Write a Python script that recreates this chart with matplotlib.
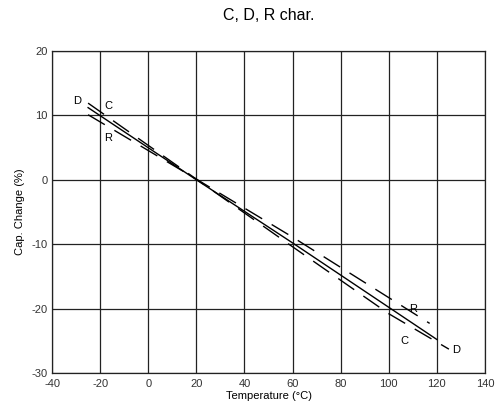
import matplotlib.pyplot as plt

plt.rcParams["font.family"] = ["Liberation Sans", "DejaVu Sans"]
plt.rcParams["axes.unicode_minus"] = False

# temperature (°C) and capacitance change (%)
temp_c = [-25, 20, 60, 100, 120]
cap_c = [11.2, 0.0, -9.8, -19.8, -24.8]

temp_d = [-25, 20, 60, 100, 125]
cap_d = [11.9, 0.1, -10.4, -20.8, -26.3]

temp_r = [-25, 20, 60, 100, 117]
cap_r = [10.1, 0.1, -8.9, -18.3, -22.3]

x_ticks = [-40, -20, 0, 20, 40, 60, 80, 100, 120, 140]
y_ticks = [-30, -20, -10, 0, 10, 20]

fig = plt.figure(figsize=(5.03, 4.11), dpi=100)
ax = fig.add_axes([0.1034, 0.0925, 0.8608, 0.7835])

ax.plot(temp_c, cap_c, color="black", lw=1.0)
ax.plot(temp_d, cap_d, color="black", lw=1.0, dashes=(14, 8))
ax.plot(temp_r, cap_r, color="black", lw=1.0, dashes=(14, 8))

ax.text(-29.5, 12.2, "D", fontsize=8, ha="center", va="center")
ax.text(-16.5, 11.5, "C", fontsize=8, ha="center", va="center")
ax.text(-16.5, 6.5, "R", fontsize=8, ha="center", va="center")
ax.text(110, -20.0, "R", fontsize=8, ha="center", va="center")
ax.text(106.5, -25.0, "C", fontsize=8, ha="center", va="center")
ax.text(128, -26.4, "D", fontsize=8, ha="center", va="center")

ax.set_xlim(-40, 140)
ax.set_ylim(-30, 20)
ax.set_xticks(x_ticks)
ax.set_yticks(y_ticks)
ax.tick_params(length=0, labelsize=8, labelcolor="#333333")
ax.tick_params(axis="x", pad=4)
ax.tick_params(axis="y", pad=3)
ax.grid(True, color="#222222", lw=0.9)
for s in ax.spines.values():
    s.set_color("#222222")
    s.set_linewidth(0.9)

ax.set_xlabel("Temperature (°C)", fontsize=8, labelpad=2)
ax.set_ylabel("Cap. Change (%)", fontsize=8, labelpad=5)
fig.text(0.534, 0.963, "C, D, R char.", fontsize=11.5, ha="center", va="center")

fig.savefig("out.png", dpi=100)
